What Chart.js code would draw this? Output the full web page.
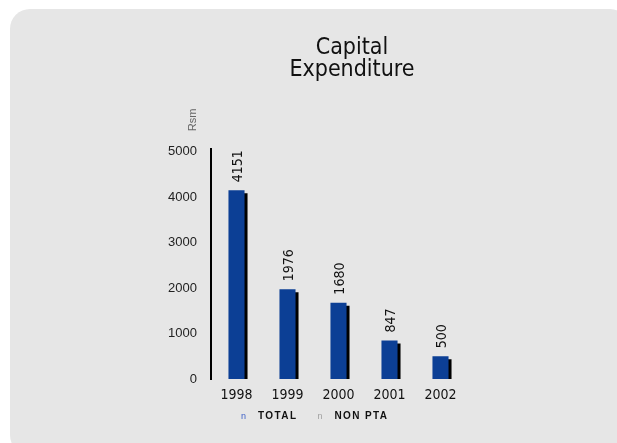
<!DOCTYPE html>
<html>
<head>
<meta charset="utf-8">
<script src="https://cdn.jsdelivr.net/npm/chart.js@4/dist/chart.umd.min.js"></script>
<style>
  html, body { margin: 0; padding: 0; background: #ffffff; overflow: hidden; }
  #panel {
    position: absolute; left: 10px; top: 9px; width: 620px; height: 446px;
    background: #e6e6e6; border-radius: 20px;
  }
  #wrap { position: absolute; left: 0; top: 0; width: 617px; height: 443px; }
</style>
</head>
<body>
<div id="panel"></div>
<div id="wrap"><canvas id="c" width="617" height="443"></canvas></div>
<script>
// Capital expenditure, Rs million
const years = ['1998', '1999', '2000', '2001', '2002'];
const totalValues = [4151, 1976, 1680, 847, 500];
const nonPtaValues = [null, null, null, null, null];
const yTicks = [0, 1000, 2000, 3000, 4000, 5000];
const titleLines = ['Capital', 'Expenditure'];
const unitLabel = 'Rsm';

const NARROW = '"DejaVu Sans Condensed", "Liberation Sans Narrow", "Arial Narrow", sans-serif';
const SANS = '"Liberation Sans", Arial, sans-serif';

// Hard black drop shadow behind the bars
const barShadow = {
  id: 'barShadow',
  beforeDatasetDraw(chart) {
    const ctx = chart.ctx;
    ctx.save();
    ctx.shadowColor = '#000000';
    ctx.shadowOffsetX = 3;
    ctx.shadowOffsetY = 3;
    ctx.shadowBlur = 0;
  },
  afterDatasetDraw(chart) {
    chart.ctx.restore();
  }
};

// Rotated value labels above each bar, unit label above the axis, legend row
const extras = {
  id: 'extras',
  afterDatasetsDraw(chart) {
    const ctx = chart.ctx;
    const meta = chart.getDatasetMeta(0);
    ctx.save();
    ctx.fillStyle = '#111111';
    ctx.font = '14px ' + NARROW;
    ctx.textAlign = 'left';
    ctx.textBaseline = 'middle';
    meta.data.forEach((bar, i) => {
      const v = chart.data.datasets[0].data[i];
      ctx.save();
      ctx.translate(bar.x + 2, bar.y - 8);
      ctx.rotate(-Math.PI / 2);
      ctx.fillText(String(v), 0, 0);
      ctx.restore();
    });
    ctx.restore();
  },
  afterDraw(chart) {
    const ctx = chart.ctx;
    const area = chart.chartArea;
    ctx.save();
    // unit label
    ctx.fillStyle = '#666666';
    ctx.font = '11px ' + SANS;
    ctx.textAlign = 'center';
    ctx.textBaseline = 'middle';
    ctx.translate(area.left - 18, 120);
    ctx.rotate(-Math.PI / 2);
    ctx.fillText(unitLabel, 0, 0);
    ctx.restore();

    // legend
    ctx.save();
    ctx.textBaseline = 'alphabetic';
    ctx.textAlign = 'left';
    const y = 419;
    let x = 241;
    chart.data.datasets.forEach((ds) => {
      ctx.letterSpacing = '0px';
      ctx.font = '9px ' + SANS;
      ctx.fillStyle = ds.legendColor;
      ctx.fillText('n', x, y);
      x += 17;
      ctx.font = 'bold 10px ' + SANS;
      ctx.letterSpacing = '1.4px';
      ctx.fillStyle = '#111111';
      ctx.fillText(ds.label, x, y);
      x += ctx.measureText(ds.label).width + 20;
    });
    ctx.restore();
  }
};

new Chart(document.getElementById('c'), {
  type: 'bar',
  data: {
    labels: years,
    datasets: [
      {
        label: 'TOTAL',
        data: totalValues,
        backgroundColor: '#0c3f95',
        legendColor: '#3d5fc6',
        borderWidth: 0
      },
      {
        label: 'NON PTA',
        data: nonPtaValues,
        backgroundColor: '#9a9a9a',
        legendColor: '#a0a0a0',
        borderWidth: 0
      }
    ]
  },
  options: {
    responsive: false,
    animation: false,
    devicePixelRatio: 1,
    layout: { padding: { left: 87, right: 0, top: 16, bottom: 0 } },
    datasets: {
      bar: { grouped: false, categoryPercentage: 1, barPercentage: 0.315 }
    },
    scales: {
      x: {
        grid: { display: false },
        border: { display: false },
        ticks: { color: '#111111', font: { family: NARROW, size: 14 }, padding: 0, maxRotation: 0 },
        afterFit(s) { s.height = 64; }
      },
      y: {
        min: 0,
        max: 5066,
        grid: { display: false },
        border: { display: true, color: '#000000', width: 2 },
        ticks: { color: '#222222', font: { family: SANS, size: 13 }, padding: 6, callback: v => String(v) },
        afterBuildTicks(s) { s.ticks = yTicks.map(v => ({ value: v })); },
        afterFit(s) { s.width = 124; }
      },
      // empty right-hand spacer keeping the plot narrower than the panel
      spacer: {
        type: 'linear',
        position: 'right',
        grid: { display: false },
        border: { display: false },
        ticks: { display: false },
        afterFit(s) { s.width = 151; }
      }
    },
    plugins: {
      legend: { display: false },
      tooltip: { enabled: false },
      title: {
        display: true,
        text: titleLines,
        color: '#111111',
        font: { family: NARROW, size: 23, weight: 'normal', lineHeight: 0.95 },
        padding: { top: 21, bottom: 68 }
      }
    }
  },
  plugins: [barShadow, extras]
});
</script>
</body>
</html>
